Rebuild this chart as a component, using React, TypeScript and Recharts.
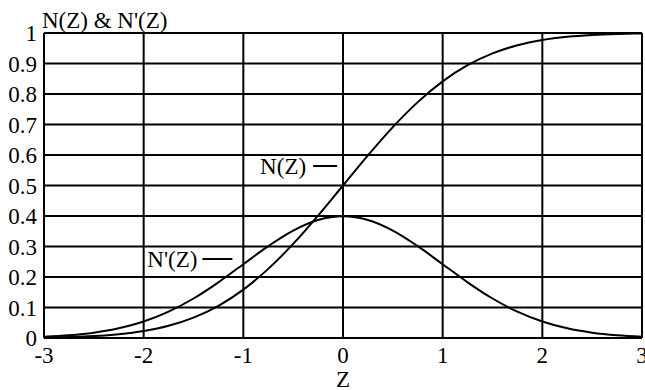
import React from 'react';
import { LineChart, Line, XAxis, YAxis, CartesianGrid, ReferenceLine } from 'recharts';

// Z values along the x axis
const zValues = [
  -3, -2.75, -2.5, -2.25, -2, -1.75, -1.5, -1.25, -1, -0.75, -0.5, -0.25, 0,
  0.25, 0.5, 0.75, 1, 1.25, 1.5, 1.75, 2, 2.25, 2.5, 2.75, 3,
];

// cumulative normal N(Z)
const cdfValues = [
  0.0013, 0.003, 0.0062, 0.0122, 0.0228, 0.0401, 0.0668, 0.1056, 0.1587, 0.2266, 0.3085, 0.4013, 0.5,
  0.5987, 0.6915, 0.7734, 0.8413, 0.8944, 0.9332, 0.9599, 0.9772, 0.9878, 0.9938, 0.997, 0.9987,
];

// density N'(Z), the bell curve
const pdfValues = [
  0.0044, 0.0091, 0.0175, 0.0317, 0.054, 0.0863, 0.1295, 0.1826, 0.242, 0.3011, 0.3521, 0.3867, 0.3989,
  0.3867, 0.3521, 0.3011, 0.242, 0.1826, 0.1295, 0.0863, 0.054, 0.0317, 0.0175, 0.0091, 0.0044,
];

const xTicks = [-3, -2, -1, 0, 1, 2, 3];
const yTicks = [0, 0.1, 0.2, 0.3, 0.4, 0.5, 0.6, 0.7, 0.8, 0.9, 1];

const data = zValues.map((z, i) => ({ z, n: cdfValues[i], np: pdfValues[i] }));

const FONT = "'Times New Roman', 'Liberation Serif', Tinos, serif";
const FS = 23;
const txt = { fill: '#000', fontSize: FS, fontFamily: FONT };

const yTickFmt = (v: number) => (v === 0 || v === 1 ? String(v) : v.toFixed(1));

// own tick renderers so the serif font is applied for sure
const XTick = ({ x, y, payload }: any) => (
  <text x={x} y={y} dy="0.71em" textAnchor="middle" {...txt}>
    {payload.value}
  </text>
);

const YTick = ({ x, y, payload }: any) => (
  <text x={x} y={y} dy="0.355em" textAnchor="end" {...txt}>
    {yTickFmt(payload.value)}
  </text>
);

export default function App() {
  // pinned to the viewport corner so nothing overflows the body
  return (
    <div style={{ position: 'absolute', left: 0, top: 0, width: 645, height: 390, fontFamily: FONT }}>
      <LineChart
        width={645}
        height={390}
        data={data}
        margin={{ top: 33, right: 3, left: 0, bottom: 0 }}
      >
        <CartesianGrid stroke="#000" strokeWidth={2} />
        <XAxis
          dataKey="z"
          type="number"
          domain={[-3, 3]}
          ticks={xTicks}
          interval={0}
          height={52}
          tickLine={false}
          tickMargin={3}
          axisLine={{ stroke: '#000', strokeWidth: 2 }}
          tick={<XTick />}
          label={{ value: 'Z', position: 'insideBottom', offset: 3, ...txt }}
        />
        <YAxis
          type="number"
          domain={[0, 1]}
          ticks={yTicks}
          interval={0}
          width={44}
          tickLine={false}
          tickMargin={1}
          axisLine={{ stroke: '#000', strokeWidth: 2 }}
          tick={<YTick />}
          label={{
            content: ({ viewBox }: any) => (
              <text x={viewBox.x + viewBox.width - 2} y={viewBox.y - 5} {...txt}>
                N(Z) &amp; N'(Z)
              </text>
            ),
          }}
        />
        <ReferenceLine
          segment={[{ x: -0.3, y: 0.564 }, { x: -0.06, y: 0.564 }]}
          stroke="#000"
          strokeWidth={2}
          label={{ value: 'N(Z)', position: 'left', offset: 7, ...txt }}
        />
        <ReferenceLine
          segment={[{ x: -1.41, y: 0.259 }, { x: -1.11, y: 0.259 }]}
          stroke="#000"
          strokeWidth={2}
          label={{ value: "N'(Z)", position: 'left', offset: 5, ...txt }}
        />
        <Line type="monotone" dataKey="n" stroke="#000" strokeWidth={2} dot={false} isAnimationActive={false} />
        <Line type="monotone" dataKey="np" stroke="#000" strokeWidth={2} dot={false} isAnimationActive={false} />
      </LineChart>
    </div>
  );
}
